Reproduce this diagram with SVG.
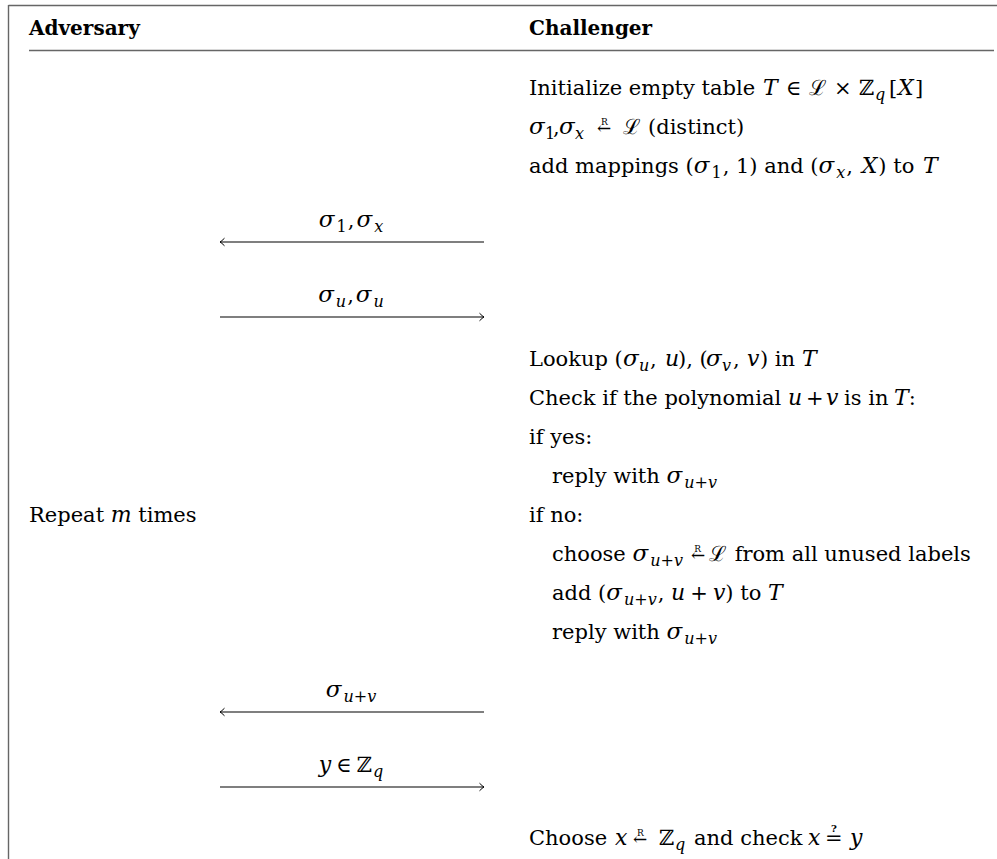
<svg xmlns="http://www.w3.org/2000/svg" width="997" height="859" viewBox="0 0 997 859">
<defs>
<style>
.t{font-family:"DejaVu Serif","Liberation Serif",serif;font-size:21px;fill:#000}
.b{font-weight:bold;font-size:20px}
.i{font-style:italic;font-size:22px}
.g{font-style:italic;font-size:23px}
.s{font-size:16px}
.si{font-size:16px;font-style:italic}
.ar{font-size:17px}
.r{font-size:9px}
.q{font-size:10px;font-weight:bold}
.rl{stroke:#666;stroke-width:1.4;fill:none}
.msg{stroke:#000;stroke-width:1.1;fill:none;marker-end:url(#head)}
.lbl{text-anchor:middle}
</style>
<marker id="head" viewBox="-6 -5 8 10" markerWidth="8" markerHeight="10" refX="0" refY="0" orient="auto" markerUnits="userSpaceOnUse">
<path d="M-4.5,-3.8 Q-1.5,-0.8 0,0 Q-1.5,0.8 -4.5,3.8" stroke="#000" stroke-width="1" fill="none"/>
</marker>
</defs>
<rect width="997" height="859" fill="#fff"/>

<g id="frame">
<path class="rl" d="M8.5,5.5 H997 M8.5,5 V859"/>
<path class="rl" d="M29,50.5 H994"/>
</g>

<g id="header">
<text class="t b" x="29" y="35">Adversary</text>
<text class="t b" x="529" y="35">Challenger</text>
</g>

<g id="adversary">
<text class="t" x="29" y="522">Repeat <tspan class="i">m</tspan> times</text>
</g>

<g id="challenger-setup">
<text class="t" y="95"><tspan x="529">Initialize empty table</tspan><tspan class="i" x="763">T</tspan><tspan x="786">∈</tspan><tspan x="809">ℒ</tspan><tspan x="834">×</tspan><tspan x="859">ℤ</tspan><tspan class="si" x="875" dy="5">q</tspan><tspan x="889" dy="-5">[</tspan><tspan class="i" x="898">X</tspan><tspan x="915">]</tspan></text>
<text class="t" y="134"><tspan class="g" x="529">σ</tspan><tspan class="s" x="545" dy="5">1</tspan><tspan x="553" dy="-5">,</tspan><tspan class="g" x="559">σ</tspan><tspan class="si" x="575" dy="5">x</tspan><tspan class="ar" x="597" dy="-5">←</tspan><tspan class="r" x="601" dy="-9">R</tspan><tspan x="623" dy="9">ℒ</tspan><tspan x="648">(distinct)</tspan></text>
<text class="t" x="529" y="173">add mappings (<tspan class="g">σ</tspan><tspan class="s" dy="5" dx="2">1</tspan><tspan dy="-5" dx="1">, 1) and (</tspan><tspan class="g">σ</tspan><tspan class="si" dy="5" dx="2">x</tspan><tspan dy="-5" dx="1">, </tspan><tspan class="i" dx="2">X</tspan><tspan dx="1">) to </tspan><tspan class="i" dx="2">T</tspan></text>
</g>

<g id="challenger-query">
<text class="t" y="366"><tspan x="529">Lookup (</tspan><tspan class="g" x="623">σ</tspan><tspan class="si" x="639" dy="5">u</tspan><tspan x="650" dy="-5">,</tspan><tspan class="i" x="665">u</tspan><tspan x="678">), (</tspan><tspan class="g" x="706">σ</tspan><tspan class="si" x="722" dy="5">v</tspan><tspan x="733" dy="-5">,</tspan><tspan class="i" x="747">v</tspan><tspan x="760">) in</tspan><tspan class="i" x="802">T</tspan></text>
<text class="t" y="405"><tspan x="529">Check if the polynomial</tspan><tspan class="i" x="788">u</tspan><tspan x="806">+</tspan><tspan class="i" x="826">v</tspan><tspan x="844">is in</tspan><tspan class="i" x="894">T</tspan>:</text>
<text class="t" x="529" y="444">if yes:</text>
<text class="t" x="552" y="483">reply with <tspan class="g">σ</tspan><tspan class="si" dy="5" dx="2">u</tspan><tspan class="s">+</tspan><tspan class="si">v</tspan></text>
<text class="t" x="529" y="522">if no:</text>
<text class="t" x="552" y="561">choose <tspan class="g">σ</tspan><tspan class="si" dy="5" dx="2">u</tspan><tspan class="s">+</tspan><tspan class="si">v</tspan><tspan dy="-5" dx="8" class="ar">←</tspan><tspan dx="-11" dy="-9" class="r">R</tspan><tspan dx="8" dy="9">ℒ</tspan><tspan dx="1"> from all unused labels</tspan></text>
<text class="t" x="552" y="600">add (<tspan class="g">σ</tspan><tspan class="si" dy="5" dx="2">u</tspan><tspan class="s">+</tspan><tspan class="si">v</tspan><tspan dy="-5" dx="1">, </tspan><tspan class="i">u</tspan><tspan dx="5">+</tspan><tspan class="i" dx="5">v</tspan>) to <tspan class="i">T</tspan></text>
<text class="t" x="552" y="639">reply with <tspan class="g">σ</tspan><tspan class="si" dy="5" dx="2">u</tspan><tspan class="s">+</tspan><tspan class="si">v</tspan></text>
</g>

<g id="challenger-final">
<text class="t" y="845"><tspan x="529">Choose</tspan><tspan class="i" x="615">x</tspan><tspan class="ar" x="633">←</tspan><tspan class="r" x="637" dy="-9">R</tspan><tspan x="659" dy="9">ℤ</tspan><tspan class="si" x="675" dy="5">q</tspan><tspan x="694" dy="-5">and check</tspan><tspan class="i" x="808">x</tspan><tspan x="825">=</tspan><tspan class="q" x="831" dy="-13">?</tspan><tspan class="i" x="850" dy="13">y</tspan></text>
</g>

<g id="connectors">
<path class="msg" d="M484,242 H220"/>
<path class="msg" d="M220,317 H484"/>
<path class="msg" d="M484,712 H220"/>
<path class="msg" d="M220,787 H484"/>
<text class="t lbl" x="351" y="227"><tspan class="g">σ</tspan><tspan class="s" dy="5" dx="2">1</tspan><tspan dy="-5" dx="1">,</tspan><tspan class="g" dx="2">σ</tspan><tspan class="si" dy="5" dx="2">x</tspan></text>
<text class="t lbl" x="351" y="302"><tspan class="g">σ</tspan><tspan class="si" dy="5" dx="2">u</tspan><tspan dy="-5" dx="1">,</tspan><tspan class="g" dx="2">σ</tspan><tspan class="si" dy="5" dx="2">u</tspan></text>
<text class="t lbl" x="351" y="697"><tspan class="g">σ</tspan><tspan class="si" dy="5" dx="2">u</tspan><tspan class="s">+</tspan><tspan class="si">v</tspan></text>
<text class="t lbl" x="351" y="772"><tspan class="i">y</tspan><tspan dx="5">∈</tspan><tspan dx="5">ℤ</tspan><tspan class="si" dy="5" dx="1">q</tspan></text>
</g>
</svg>
